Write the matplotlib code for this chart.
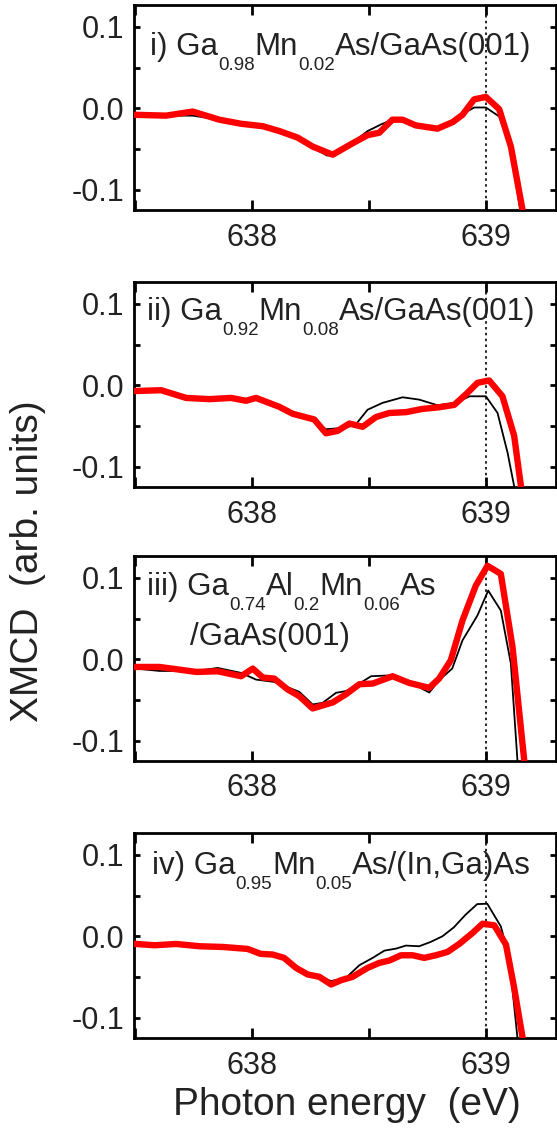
"""XMCD spectra at the Mn L3 pre-edge for four (Ga,Mn)As samples."""

import matplotlib

matplotlib.use("Agg")
import matplotlib.pyplot as plt
from matplotlib import transforms
from matplotlib.ticker import FuncFormatter, MultipleLocator

plt.rcParams["font.family"] = ["Liberation Sans", "DejaVu Sans"]

# ----------------------------------------------------------------------
# Data, energies in eV, XMCD in arb. units
# ----------------------------------------------------------------------

e1_red = [637.504, 637.632, 637.746, 637.86, 637.953, 638.046, 638.117, 638.195,
          638.259, 638.345, 638.43, 638.494, 638.544, 638.60, 638.644, 638.70,
          638.793, 638.858, 638.90, 638.95, 639.0, 639.057, 639.107, 639.157, 639.18]
y1_red = [-0.008, -0.009, -0.004, -0.014, -0.019, -0.022, -0.028, -0.036,
          -0.047, -0.057, -0.043, -0.033, -0.030, -0.014, -0.014, -0.021,
          -0.025, -0.017, -0.008, 0.011, 0.014, -0.001, -0.047, -0.125, -0.16]
e1_blk = [637.504, 637.632, 637.746, 637.86, 637.953, 638.046, 638.117, 638.195,
          638.259, 638.32, 638.345, 638.43, 638.494, 638.55, 638.60, 638.644,
          638.70, 638.793, 638.858, 638.90, 638.95, 639.0, 639.057, 639.107, 639.16]
y1_blk = [-0.008, -0.009, -0.009, -0.014, -0.019, -0.022, -0.028, -0.037,
          -0.048, -0.058, -0.058, -0.042, -0.028, -0.020, -0.014, -0.014,
          -0.021, -0.023, -0.015, -0.007, 0.001, 0.001, -0.010, -0.050, -0.15]

e2_red = [637.504, 637.611, 637.718, 637.818, 637.91, 637.974, 638.017, 638.117,
          638.174, 638.266, 638.316, 638.366, 638.416, 638.473, 638.530, 638.587,
          638.658, 638.729, 638.80, 638.865, 638.915, 638.964, 639.014, 639.071,
          639.121, 639.15, 639.17]
y2_red = [-0.007, -0.006, -0.0155, -0.017, -0.0155, -0.019, -0.0155, -0.0265,
          -0.035, -0.042, -0.059, -0.056, -0.047, -0.051, -0.039, -0.034,
          -0.033, -0.029, -0.027, -0.024, -0.011, 0.003, 0.006, -0.0135,
          -0.062, -0.124, -0.16]
e2_blk = [637.504, 637.611, 637.718, 637.818, 637.91, 637.974, 638.017, 638.117,
          638.174, 638.266, 638.316, 638.402, 638.444, 638.494, 638.558, 638.644,
          638.715, 638.793, 638.872, 638.93, 639.0, 639.05, 639.093, 639.121, 639.14]
y2_blk = [-0.007, -0.007, -0.015, -0.017, -0.016, -0.019, -0.018, -0.027,
          -0.035, -0.043, -0.054, -0.052, -0.048, -0.030, -0.0216, -0.0147,
          -0.0176, -0.0245, -0.0216, -0.0135, -0.0135, -0.034, -0.083, -0.124, -0.16]

e3_red = [637.504, 637.604, 637.761, 637.853, 637.953, 638.003, 638.046, 638.095,
          638.152, 638.202, 638.259, 638.345, 638.402, 638.459, 638.516, 638.601,
          638.672, 638.758, 638.80, 638.85, 638.90, 638.957, 639.007, 639.064,
          639.114, 639.164, 639.18]
y3_red = [-0.0094, -0.0094, -0.0155, -0.0147, -0.0208, -0.0114, -0.0224, -0.0237,
          -0.037, -0.0453, -0.0604, -0.053, -0.0429, -0.0306, -0.0298, -0.0208,
          -0.029, -0.0351, -0.0237, -0.0012, 0.0478, 0.0906, 0.115, 0.105,
          0.0151, -0.124, -0.16]
e3_blk = [637.504, 637.604, 637.761, 637.853, 637.953, 638.017, 638.095, 638.202,
          638.259, 638.302, 638.359, 638.402, 638.459, 638.509, 638.601, 638.672,
          638.758, 638.80, 638.856, 638.90, 638.964, 639.01, 639.064, 639.107,
          639.135, 639.15]
y3_blk = [-0.0114, -0.0143, -0.0143, -0.0106, -0.0167, -0.0249, -0.0278, -0.040,
          -0.0555, -0.0535, -0.0412, -0.039, -0.0298, -0.0208, -0.0196, -0.0278,
          -0.0408, -0.0257, -0.0114, 0.0233, 0.0539, 0.0845, 0.060, -0.0053,
          -0.124, -0.16]

e4_red = [637.504, 637.583, 637.675, 637.775, 637.875, 637.981, 638.037, 638.088,
          638.137, 638.188, 638.238, 638.288, 638.338, 638.381, 638.430, 638.494,
          638.544, 638.587, 638.637, 638.687, 638.736, 638.786, 638.836, 638.886,
          638.943, 638.986, 639.036, 639.086, 639.121, 639.157, 639.17]
y4_red = [-0.0094, -0.011, -0.0094, -0.0122, -0.0131, -0.0155, -0.0216, -0.0224,
          -0.0265, -0.0388, -0.0469, -0.0498, -0.0592, -0.0539, -0.0498, -0.0388,
          -0.0327, -0.0298, -0.0233, -0.0233, -0.0265, -0.0233, -0.0192, -0.0094,
          0.0041, 0.0155, 0.0135, -0.0102, -0.0633, -0.1245, -0.16]
e4_blk = [637.504, 637.583, 637.675, 637.775, 637.875, 637.981, 638.037, 638.088,
          638.137, 638.188, 638.238, 638.288, 638.338, 638.402, 638.459, 638.516,
          638.566, 638.616, 638.658, 638.715, 638.764, 638.814, 638.863, 638.913,
          638.963, 639.006, 639.064, 639.10, 639.135, 639.15]
y4_blk = [-0.0094, -0.011, -0.0094, -0.0122, -0.0131, -0.0155, -0.0216, -0.0224,
          -0.0270, -0.0388, -0.0469, -0.0490, -0.0550, -0.051, -0.0355, -0.0265,
          -0.0176, -0.0151, -0.0114, -0.0122, -0.0069, 0.0, 0.011, 0.0265,
          0.0396, 0.040, 0.0122, -0.0265, -0.1245, -0.16]

# Sample labels: each line is a list of (text, is_subscript) pieces
labels = [
    [[("i) Ga", False), ("0.98", True), ("Mn", False), ("0.02", True),
      ("As/GaAs(001)", False)]],
    [[("ii) Ga", False), ("0.92", True), ("Mn", False), ("0.08", True),
      ("As/GaAs(001)", False)]],
    [[("iii) Ga", False), ("0.74", True), ("Al", False), ("0.2", True),
      ("Mn", False), ("0.06", True), ("As", False)],
     [("/GaAs(001)", False)]],
    [[("iv) Ga", False), ("0.95", True), ("Mn", False), ("0.05", True),
      ("As/(In,Ga)As", False)]],
]

panels = [
    (e1_blk, y1_blk, e1_red, y1_red),
    (e2_blk, y2_blk, e2_red, y2_red),
    (e3_blk, y3_blk, e3_red, y3_red),
    (e4_blk, y4_blk, e4_red, y4_red),
]

# ----------------------------------------------------------------------
# Layout (pixel boxes from the reference, 557 x 1128)
# ----------------------------------------------------------------------
W, H = 557, 1128
AX_LEFT, AX_RIGHT = 134, 556
AX_TOPS = [5, 282, 556, 833]
AX_H = 205
# (x px, baseline px from the axes top) for every label line
LABEL_POS = [
    [(150, 50)],
    [(147, 38)],
    [(147, 39), (190, 89)],
    [(152, 41)],
]
TEXT_COLOR = "#222222"
MAIN_SIZE = 22.5
SUB_SIZE = 13.5
SUB_DROP = 15  # px below the main baseline

fig = plt.figure(figsize=(W / 100, H / 100), dpi=100)
renderer = fig.canvas.get_renderer()


def _draw_label(ax, x_px, y_px, pieces):
    """Lay out text pieces left to right, dropping the subscripts."""
    x0 = (x_px - AX_LEFT) / (AX_RIGHT - AX_LEFT)
    y0 = 1 - y_px / AX_H
    dx = 0.0
    for text, sub in pieces:
        trans = transforms.offset_copy(ax.transAxes, fig=fig, x=dx,
                                       y=-SUB_DROP if sub else 0, units="dots")
        t = ax.text(x0, y0, text, transform=trans, ha="left", va="baseline",
                    fontsize=SUB_SIZE if sub else MAIN_SIZE, color=TEXT_COLOR,
                    zorder=4)
        dx += t.get_window_extent(renderer).width


for i, (eb, yb, er, yr) in enumerate(panels):
    top = AX_TOPS[i]
    ax = fig.add_axes([AX_LEFT / W, 1 - (top + AX_H) / H,
                       (AX_RIGHT - AX_LEFT) / W, AX_H / H])
    ax.plot(eb, yb, color="black", lw=1.3, zorder=2)
    ax.plot(er, yr, color="#ff0000", lw=4.6, zorder=3, solid_joinstyle="round")
    ax.axvline(639.0, color="black", lw=1.2, ls=(0, (1.5, 2)), zorder=1)

    ax.set_xlim(637.495, 639.30)
    ax.set_ylim(-0.125, 0.127)
    ax.xaxis.set_major_locator(MultipleLocator(1))
    ax.xaxis.set_minor_locator(MultipleLocator(0.5))
    ax.yaxis.set_major_locator(MultipleLocator(0.1))
    ax.yaxis.set_minor_locator(MultipleLocator(0.05))
    ax.yaxis.set_major_formatter(
        FuncFormatter(lambda v, _: f"{v:.1f}".replace("-0.0", "0.0")))

    for side in ax.spines.values():
        side.set_linewidth(2.0)
    ax.tick_params(axis="both", which="both", direction="in",
                   top=True, right=True, width=2.0, labelsize=22,
                   labelcolor=TEXT_COLOR)
    ax.tick_params(axis="x", which="both", length=7, pad=9)
    ax.tick_params(axis="y", which="both", length=4.5, pad=7)

    for pieces, (px, py) in zip(labels[i], LABEL_POS[i]):
        _draw_label(ax, px, py, pieces)

fig.text(28 / W, 1 - 722 / H, "XMCD  (arb. units)", rotation=90,
         ha="center", va="bottom", fontsize=28, color=TEXT_COLOR)
fig.text(347 / W, 1 - 1115 / H, "Photon energy  (eV)",
         ha="center", va="baseline", fontsize=28, color=TEXT_COLOR)

fig.savefig("out.png", dpi=100)
